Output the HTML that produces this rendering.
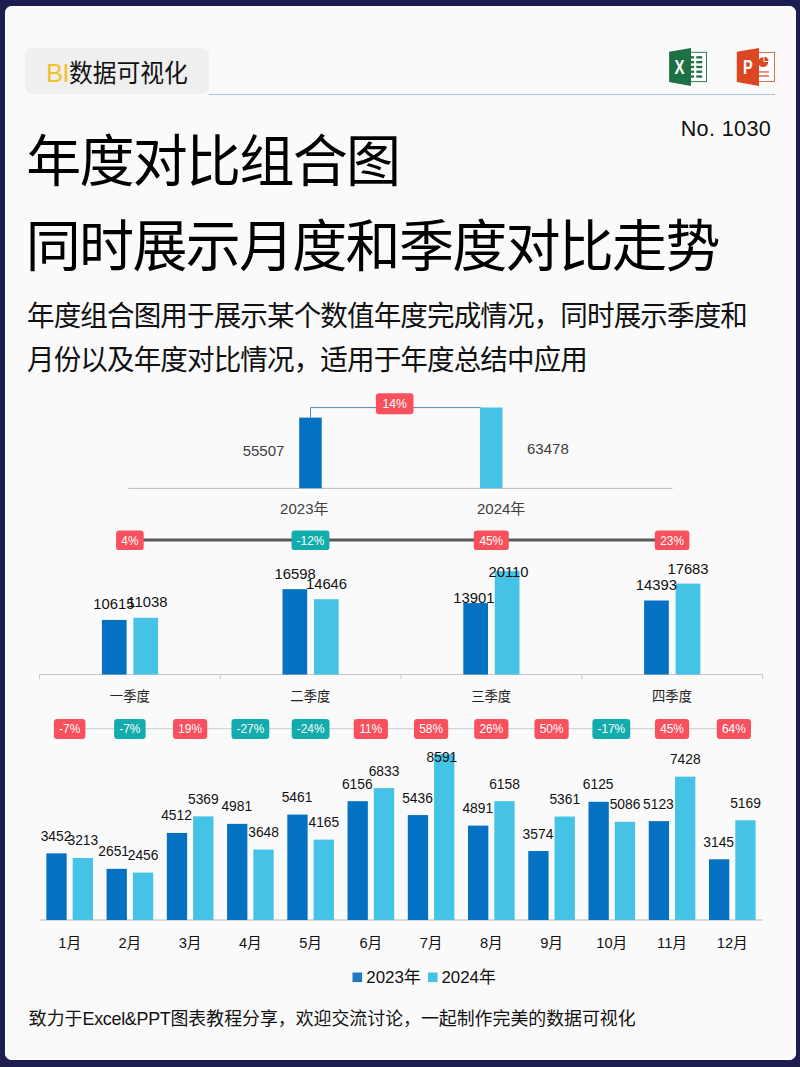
<!DOCTYPE html>
<html lang="zh-CN">
<head>
<meta charset="utf-8">
<title>年度对比组合图</title>
<style>
*{margin:0;padding:0;box-sizing:border-box}
html,body{width:800px;height:1067px;overflow:hidden;background:#1d1e4f}
body{position:relative;font-family:"Liberation Sans", "Noto Sans CJK SC", sans-serif;color:#111}
.card{position:absolute;left:5px;top:6.2px;width:790.5px;height:1053.8px;background:#fafafa;border-radius:7px;box-shadow:inset 0 0 0 1px #fff}
.tag{position:absolute;left:25px;top:47.8px;width:184px;height:46px;background:#efefef;border-radius:7px}
.tagtxt{position:absolute;left:46.3px;top:49.7px;height:46px;line-height:46px;font-size:23.8px;white-space:nowrap;color:#111;transform:scaleY(1.035);transform-origin:0 52%}
.tagtxt b{font-weight:400;color:#f4c12c;font-size:25.2px;letter-spacing:-0.6px}
.rule{position:absolute;left:209px;top:93.6px;width:566px;height:1.9px;background:#a8c5e4}
.no{position:absolute;right:28.9px;top:115.3px;letter-spacing:0.35px;font-size:21.6px;line-height:28px;white-space:nowrap;color:#111}
.h1{position:absolute;left:26.2px;font-size:55px;letter-spacing:-1.7px;line-height:64px;white-space:nowrap;font-weight:400;color:#000;transform:scaleY(1.022);transform-origin:0 50%}
.sub{position:absolute;left:27px;font-size:27.55px;letter-spacing:-0.88px;line-height:34px;white-space:nowrap;color:#111;transform:scaleY(1.035);transform-origin:0 50%}
.foot{position:absolute;left:28.8px;top:1006px;font-size:17.9px;line-height:26px;white-space:nowrap;color:#111}
.foot i{font-style:normal;letter-spacing:-0.28px}
svg{position:absolute;left:0;top:0}
svg text{font-family:"Liberation Sans", "Noto Sans CJK SC", sans-serif}
</style>
</head>
<body>
<div class="card"></div>
<div class="tag"></div>
<div class="tagtxt"><b>BI</b>数据可视化</div>
<div class="rule"></div>
<div class="no">No. 1030</div>
<div class="h1" style="top:130.2px">年度对比组合图</div>
<div class="h1" style="top:214.6px;left:25.8px">同时展示月度和季度对比走势</div>
<div class="sub" style="top:300px">年度组合图用于展示某个数值年度完成情况，同时展示季度和</div>
<div class="sub" style="top:344px">月份以及年度对比情况，适用于年度总结中应用</div>
<svg width="800" height="1067" viewBox="0 0 800 1067">
<g transform="translate(669,48)"><rect x="21" y="4.3" width="16.5" height="29.3" fill="#fff" stroke="#1e7145" stroke-width="0.9"/><rect x="21" y="8.2" width="4.1" height="2.3" fill="#1e7145"/><rect x="27.3" y="8.2" width="5.9" height="2.3" fill="#1e7145"/><rect x="21" y="13.0" width="4.1" height="2.3" fill="#1e7145"/><rect x="27.3" y="13.0" width="5.9" height="2.3" fill="#1e7145"/><rect x="21" y="17.8" width="4.1" height="2.3" fill="#1e7145"/><rect x="27.3" y="17.8" width="5.9" height="2.3" fill="#1e7145"/><rect x="21" y="22.6" width="4.1" height="2.3" fill="#1e7145"/><rect x="27.3" y="22.6" width="5.9" height="2.3" fill="#1e7145"/><rect x="21" y="27.4" width="4.1" height="2.3" fill="#1e7145"/><rect x="27.3" y="27.4" width="5.9" height="2.3" fill="#1e7145"/><path d="M0.1 3.8 L22 -0.1 V38.1 L0.1 34.1 Z" fill="#1e7145"/><text x="10.4" y="26" font-size="19.7" font-weight="bold" fill="#fff" text-anchor="middle" textLength="10" lengthAdjust="spacingAndGlyphs">X</text></g>
<g transform="translate(737,48)"><rect x="21" y="4.5" width="16.5" height="29" fill="#fff" stroke="#d4603f" stroke-width="0.9"/><circle cx="26.2" cy="14.2" r="4.9" fill="#da4722"/><path d="M26.9 8.2 A5.3 5.3 0 0 1 32.2 13.5 H26.9 Z" fill="#da4722" stroke="#fff" stroke-width="1"/><rect x="22" y="23.3" width="10" height="1.3" fill="#d4603f"/><rect x="22" y="27.3" width="10" height="1.4" fill="#d4603f"/><path d="M-0.2 3.8 L22 -0.1 V38.1 L-0.2 34.1 Z" fill="#da4722"/><text x="10.8" y="26" font-size="19.7" font-weight="bold" fill="#fff" text-anchor="middle" textLength="9.7" lengthAdjust="spacingAndGlyphs">P</text></g>
<g id="year">
<line x1="128.3" y1="488.4" x2="672.5" y2="488.4" stroke="#b6b6b6" stroke-width="0.95"/>
<rect x="299.2" y="417.6" width="22.5" height="70.6" fill="#0471c3"/>
<rect x="480" y="407.5" width="22.5" height="80.7" fill="#45c3e6"/>
<path d="M310.5 417.6 V407.6 H480.5" fill="none" stroke="#5888b8" stroke-width="1"/>
<rect x="375.90" y="393.15" width="37.60" height="21.10" rx="3.2" fill="#f8505d"/>
<text x="394.70" y="408.03" font-size="12.2" fill="#fff" text-anchor="middle">14%</text>
<text x="263.5" y="456" font-size="15" fill="#404040" text-anchor="middle">55507</text>
<text x="547.9" y="453.8" font-size="15" fill="#404040" text-anchor="middle">63478</text>
<text x="304.3" y="514" font-size="15" fill="#404040" text-anchor="middle">2023年</text>
<text x="501.2" y="514" font-size="15" fill="#404040" text-anchor="middle">2024年</text>
</g>
<g id="quarter">
<line x1="129.8" y1="540" x2="672" y2="540" stroke="#5b5959" stroke-width="3.1"/>
<rect x="116.10" y="530.50" width="27.60" height="19.60" rx="3.2" fill="#f8505d"/>
<text x="129.90" y="544.52" font-size="11.9" fill="#fff" text-anchor="middle">4%</text>
<rect x="291.55" y="530.50" width="37.90" height="19.60" rx="3.2" fill="#13acad"/>
<text x="310.50" y="544.52" font-size="11.9" fill="#fff" text-anchor="middle">-12%</text>
<rect x="473.80" y="530.50" width="35.00" height="19.60" rx="3.2" fill="#f8505d"/>
<text x="491.30" y="544.52" font-size="11.9" fill="#fff" text-anchor="middle">45%</text>
<rect x="654.80" y="530.50" width="34.60" height="19.60" rx="3.2" fill="#f8505d"/>
<text x="672.10" y="544.52" font-size="11.9" fill="#fff" text-anchor="middle">23%</text>
<line x1="39.5" y1="674.5" x2="762.6" y2="674.5" stroke="#c6c6c6" stroke-width="1"/>
<line x1="39.50" y1="674.5" x2="39.50" y2="679.1" stroke="#c6c6c6" stroke-width="1"/>
<line x1="220.28" y1="674.5" x2="220.28" y2="679.1" stroke="#c6c6c6" stroke-width="1"/>
<line x1="401.06" y1="674.5" x2="401.06" y2="679.1" stroke="#c6c6c6" stroke-width="1"/>
<line x1="581.84" y1="674.5" x2="581.84" y2="679.1" stroke="#c6c6c6" stroke-width="1"/>
<line x1="762.62" y1="674.5" x2="762.62" y2="679.1" stroke="#c6c6c6" stroke-width="1"/>
<rect x="101.90" y="619.94" width="24.7" height="54.56" fill="#0471c3"/>
<rect x="133.40" y="617.76" width="24.7" height="56.74" fill="#45c3e6"/>
<rect x="282.50" y="589.19" width="24.7" height="85.31" fill="#0471c3"/>
<rect x="314.00" y="599.22" width="24.7" height="75.28" fill="#45c3e6"/>
<rect x="463.30" y="603.05" width="24.7" height="71.45" fill="#0471c3"/>
<rect x="494.80" y="571.13" width="24.7" height="103.37" fill="#45c3e6"/>
<rect x="644.10" y="600.52" width="24.7" height="73.98" fill="#0471c3"/>
<rect x="675.60" y="583.61" width="24.7" height="90.89" fill="#45c3e6"/>
<text x="113.9" y="608.8" font-size="14.8" fill="#111" text-anchor="middle">10615</text>
<text x="147.4" y="607.0" font-size="14.8" fill="#111" text-anchor="middle">11038</text>
<text x="295.2" y="579.3" font-size="14.8" fill="#111" text-anchor="middle">16598</text>
<text x="326.5" y="588.9" font-size="14.8" fill="#111" text-anchor="middle">14646</text>
<text x="473.8" y="603.3" font-size="14.8" fill="#111" text-anchor="middle">13901</text>
<text x="508.5" y="576.9" font-size="14.8" fill="#111" text-anchor="middle">20110</text>
<text x="656.4" y="590.4" font-size="14.8" fill="#111" text-anchor="middle">14393</text>
<text x="688.0" y="573.9" font-size="14.8" fill="#111" text-anchor="middle">17683</text>
<text x="129.8" y="701.4" font-size="13.3" fill="#222" text-anchor="middle">一季度</text>
<text x="310.3" y="701.4" font-size="13.3" fill="#222" text-anchor="middle">二季度</text>
<text x="491.2" y="701.4" font-size="13.3" fill="#222" text-anchor="middle">三季度</text>
<text x="672.0" y="701.4" font-size="13.3" fill="#222" text-anchor="middle">四季度</text>
</g>
<g id="month">
<line x1="69.65" y1="728.7" x2="732.29" y2="728.7" stroke="#d4d4d4" stroke-width="1.2"/>
<rect x="53.90" y="719.00" width="31.50" height="20.00" rx="3.2" fill="#f8505d"/>
<text x="69.65" y="733.22" font-size="11.9" fill="#fff" text-anchor="middle">-7%</text>
<rect x="114.14" y="719.00" width="31.50" height="20.00" rx="3.2" fill="#13acad"/>
<text x="129.89" y="733.22" font-size="11.9" fill="#fff" text-anchor="middle">-7%</text>
<rect x="173.03" y="719.00" width="34.20" height="20.00" rx="3.2" fill="#f8505d"/>
<text x="190.13" y="733.22" font-size="11.9" fill="#fff" text-anchor="middle">19%</text>
<rect x="231.47" y="719.00" width="37.80" height="20.00" rx="3.2" fill="#13acad"/>
<text x="250.37" y="733.22" font-size="11.9" fill="#fff" text-anchor="middle">-27%</text>
<rect x="291.71" y="719.00" width="37.80" height="20.00" rx="3.2" fill="#13acad"/>
<text x="310.61" y="733.22" font-size="11.9" fill="#fff" text-anchor="middle">-24%</text>
<rect x="353.75" y="719.00" width="34.20" height="20.00" rx="3.2" fill="#f8505d"/>
<text x="370.85" y="733.22" font-size="11.9" fill="#fff" text-anchor="middle">11%</text>
<rect x="413.99" y="719.00" width="34.20" height="20.00" rx="3.2" fill="#f8505d"/>
<text x="431.09" y="733.22" font-size="11.9" fill="#fff" text-anchor="middle">58%</text>
<rect x="474.23" y="719.00" width="34.20" height="20.00" rx="3.2" fill="#f8505d"/>
<text x="491.33" y="733.22" font-size="11.9" fill="#fff" text-anchor="middle">26%</text>
<rect x="534.47" y="719.00" width="34.20" height="20.00" rx="3.2" fill="#f8505d"/>
<text x="551.57" y="733.22" font-size="11.9" fill="#fff" text-anchor="middle">50%</text>
<rect x="592.41" y="719.00" width="37.80" height="20.00" rx="3.2" fill="#13acad"/>
<text x="611.31" y="733.22" font-size="11.9" fill="#fff" text-anchor="middle">-17%</text>
<rect x="654.95" y="719.00" width="34.20" height="20.00" rx="3.2" fill="#f8505d"/>
<text x="672.05" y="733.22" font-size="11.9" fill="#fff" text-anchor="middle">45%</text>
<rect x="716.79" y="719.00" width="34.20" height="20.00" rx="3.2" fill="#f8505d"/>
<text x="733.89" y="733.22" font-size="11.9" fill="#fff" text-anchor="middle">64%</text>
<line x1="39.5" y1="920" x2="762.6" y2="920" stroke="#b9b9b9" stroke-width="1.1"/>
<rect x="46.35" y="853.38" width="20.3" height="66.62" fill="#0471c3"/>
<rect x="72.65" y="857.99" width="20.3" height="62.01" fill="#45c3e6"/>
<rect x="106.59" y="868.84" width="20.3" height="51.16" fill="#0471c3"/>
<rect x="132.89" y="872.60" width="20.3" height="47.40" fill="#45c3e6"/>
<rect x="166.83" y="832.92" width="20.3" height="87.08" fill="#0471c3"/>
<rect x="193.13" y="816.38" width="20.3" height="103.62" fill="#45c3e6"/>
<rect x="227.07" y="823.87" width="20.3" height="96.13" fill="#0471c3"/>
<rect x="253.37" y="849.59" width="20.3" height="70.41" fill="#45c3e6"/>
<rect x="287.31" y="814.60" width="20.3" height="105.40" fill="#0471c3"/>
<rect x="313.61" y="839.62" width="20.3" height="80.38" fill="#45c3e6"/>
<rect x="347.55" y="801.19" width="20.3" height="118.81" fill="#0471c3"/>
<rect x="373.85" y="788.12" width="20.3" height="131.88" fill="#45c3e6"/>
<rect x="407.79" y="815.09" width="20.3" height="104.91" fill="#0471c3"/>
<rect x="434.09" y="754.19" width="20.3" height="165.81" fill="#45c3e6"/>
<rect x="468.03" y="825.60" width="20.3" height="94.40" fill="#0471c3"/>
<rect x="494.33" y="801.15" width="20.3" height="118.85" fill="#45c3e6"/>
<rect x="528.27" y="851.02" width="20.3" height="68.98" fill="#0471c3"/>
<rect x="554.57" y="816.53" width="20.3" height="103.47" fill="#45c3e6"/>
<rect x="588.51" y="801.79" width="20.3" height="118.21" fill="#0471c3"/>
<rect x="614.81" y="821.84" width="20.3" height="98.16" fill="#45c3e6"/>
<rect x="648.75" y="821.13" width="20.3" height="98.87" fill="#0471c3"/>
<rect x="675.05" y="776.64" width="20.3" height="143.36" fill="#45c3e6"/>
<rect x="708.99" y="859.30" width="20.3" height="60.70" fill="#0471c3"/>
<rect x="735.29" y="820.24" width="20.3" height="99.76" fill="#45c3e6"/>
<text x="56.05" y="840.88" font-size="13.8" fill="#111" text-anchor="middle">3452</text>
<text x="82.85" y="845.49" font-size="13.8" fill="#111" text-anchor="middle">3213</text>
<text x="113.69" y="856.34" font-size="13.8" fill="#111" text-anchor="middle">2651</text>
<text x="143.09" y="860.10" font-size="13.8" fill="#111" text-anchor="middle">2456</text>
<text x="176.53" y="820.42" font-size="13.8" fill="#111" text-anchor="middle">4512</text>
<text x="203.33" y="803.88" font-size="13.8" fill="#111" text-anchor="middle">5369</text>
<text x="236.77" y="811.37" font-size="13.8" fill="#111" text-anchor="middle">4981</text>
<text x="263.57" y="837.09" font-size="13.8" fill="#111" text-anchor="middle">3648</text>
<text x="297.01" y="802.10" font-size="13.8" fill="#111" text-anchor="middle">5461</text>
<text x="323.81" y="827.12" font-size="13.8" fill="#111" text-anchor="middle">4165</text>
<text x="357.25" y="788.69" font-size="13.8" fill="#111" text-anchor="middle">6156</text>
<text x="384.05" y="775.62" font-size="13.8" fill="#111" text-anchor="middle">6833</text>
<text x="417.49" y="802.59" font-size="13.8" fill="#111" text-anchor="middle">5436</text>
<text x="441.89" y="762.30" font-size="13.8" fill="#111" text-anchor="middle">8591</text>
<text x="477.73" y="813.10" font-size="13.8" fill="#111" text-anchor="middle">4891</text>
<text x="504.53" y="788.65" font-size="13.8" fill="#111" text-anchor="middle">6158</text>
<text x="537.97" y="838.52" font-size="13.8" fill="#111" text-anchor="middle">3574</text>
<text x="564.77" y="804.03" font-size="13.8" fill="#111" text-anchor="middle">5361</text>
<text x="598.21" y="789.29" font-size="13.8" fill="#111" text-anchor="middle">6125</text>
<text x="625.01" y="809.34" font-size="13.8" fill="#111" text-anchor="middle">5086</text>
<text x="658.45" y="808.63" font-size="13.8" fill="#111" text-anchor="middle">5123</text>
<text x="685.25" y="764.14" font-size="13.8" fill="#111" text-anchor="middle">7428</text>
<text x="718.69" y="846.80" font-size="13.8" fill="#111" text-anchor="middle">3145</text>
<text x="745.49" y="807.74" font-size="13.8" fill="#111" text-anchor="middle">5169</text>
<text x="69.65" y="948.3" font-size="14.7" fill="#111" text-anchor="middle">1月</text>
<text x="129.89" y="948.3" font-size="14.7" fill="#111" text-anchor="middle">2月</text>
<text x="190.13" y="948.3" font-size="14.7" fill="#111" text-anchor="middle">3月</text>
<text x="250.37" y="948.3" font-size="14.7" fill="#111" text-anchor="middle">4月</text>
<text x="310.61" y="948.3" font-size="14.7" fill="#111" text-anchor="middle">5月</text>
<text x="370.85" y="948.3" font-size="14.7" fill="#111" text-anchor="middle">6月</text>
<text x="431.09" y="948.3" font-size="14.7" fill="#111" text-anchor="middle">7月</text>
<text x="491.33" y="948.3" font-size="14.7" fill="#111" text-anchor="middle">8月</text>
<text x="551.57" y="948.3" font-size="14.7" fill="#111" text-anchor="middle">9月</text>
<text x="611.81" y="948.3" font-size="14.7" fill="#111" text-anchor="middle">10月</text>
<text x="672.05" y="948.3" font-size="14.7" fill="#111" text-anchor="middle">11月</text>
<text x="732.29" y="948.3" font-size="14.7" fill="#111" text-anchor="middle">12月</text>
<rect x="352.5" y="972.5" width="9.6" height="9.6" fill="#1f78c3"/>
<text x="366.3" y="983.2" font-size="16.9" fill="#111">2023年</text>
<rect x="428" y="972.5" width="9.6" height="9.6" fill="#45c3e6"/>
<text x="441.4" y="983.2" font-size="16.9" fill="#111">2024年</text>
</g>
</svg>
<div class="foot">致力于<i>Excel&amp;PPT</i>图表教程分享，欢迎交流讨论，一起制作完美的数据可视化</div>
</body>
</html>
